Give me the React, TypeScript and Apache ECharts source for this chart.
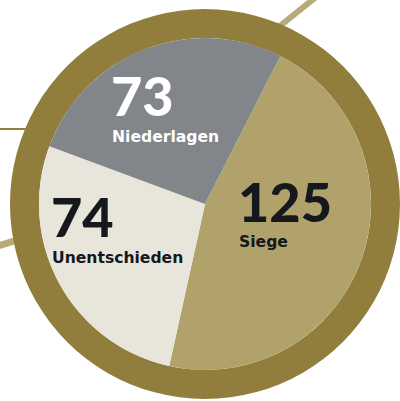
import React, { useEffect, useRef } from "react";
import * as echarts from "echarts";

const categories = ["Siege", "Unentschieden", "Niederlagen"];
const values = [125, 74, 73];
const sliceColors = ["#B1A26C", "#E8E5DB", "#828589"];
const labelColors = ["#15181D", "#15181D", "#FFFFFF"];

// label anchor (left, number middle y, name middle y)
const labelPos = [
  { x: 238, ny: 201, ly: 241.5 },
  { x: 51, ny: 216, ly: 257.5 },
  { x: 111, ny: 95, ly: 136.5 },
];

export default function App() {
  const ref = useRef<HTMLDivElement>(null);
  useEffect(() => {
    if (!ref.current) return;
    const chart = echarts.init(ref.current, null, { renderer: "svg" });
    const font = "Lato, 'Noto Sans', sans-serif";
    const nameFont = "'DejaVu Sans', 'Noto Sans', sans-serif";
    const texts: any[] = [];
    categories.forEach((c, i) => {
      const p = labelPos[i];
      texts.push({
        type: "text",
        z: 100,
        x: p.x,
        y: p.ny,
        style: {
          text: String(values[i]),
          fill: labelColors[i],
          font: `900 54px ${font}`,
          verticalAlign: "middle",
          align: "left",
        },
      });
      texts.push({
        type: "text",
        z: 100,
        x: p.x + 1,
        y: p.ly,
        style: {
          text: c,
          fill: labelColors[i],
          font: `bold 15.6px ${nameFont}`,
          verticalAlign: "middle",
          align: "left",
        },
      });
    });
    chart.setOption({
      animation: false,
      backgroundColor: "#ffffff",
      graphic: [
        { type: "line", z: 0, shape: { x1: 316, y1: -3, x2: 250, y2: 50 }, style: { stroke: "#B9AB78", lineWidth: 6 } },
        { type: "line", z: 0, shape: { x1: 0, y1: 129, x2: 50, y2: 129 }, style: { stroke: "#937F3D", lineWidth: 2 } },
        { type: "line", z: 0, shape: { x1: -2, y1: 246, x2: 40, y2: 233 }, style: { stroke: "#B9AB78", lineWidth: 7 } },
        ...texts,
      ],
      series: [
        {
          type: "pie",
          z: 2,
          silent: true,
          center: [205, 204],
          radius: [166, 195],
          label: { show: false },
          labelLine: { show: false },
          itemStyle: { color: "#927E3C" },
          data: [{ value: 1, name: "ring" }],
        },
        {
          type: "pie",
          z: 3,
          silent: true,
          center: [205, 204],
          radius: [0, 166],
          startAngle: 63,
          clockwise: true,
          label: { show: false },
          labelLine: { show: false },
          data: categories.map((c, i) => ({
            name: c,
            value: values[i],
            itemStyle: { color: sliceColors[i], borderWidth: 0 },
          })),
        },
      ],
    });
    return () => chart.dispose();
  }, []);
  return (
    <div
      ref={ref}
      style={{ position: "fixed", left: 0, top: 0, width: 400, height: 401 }}
    />
  );
}
